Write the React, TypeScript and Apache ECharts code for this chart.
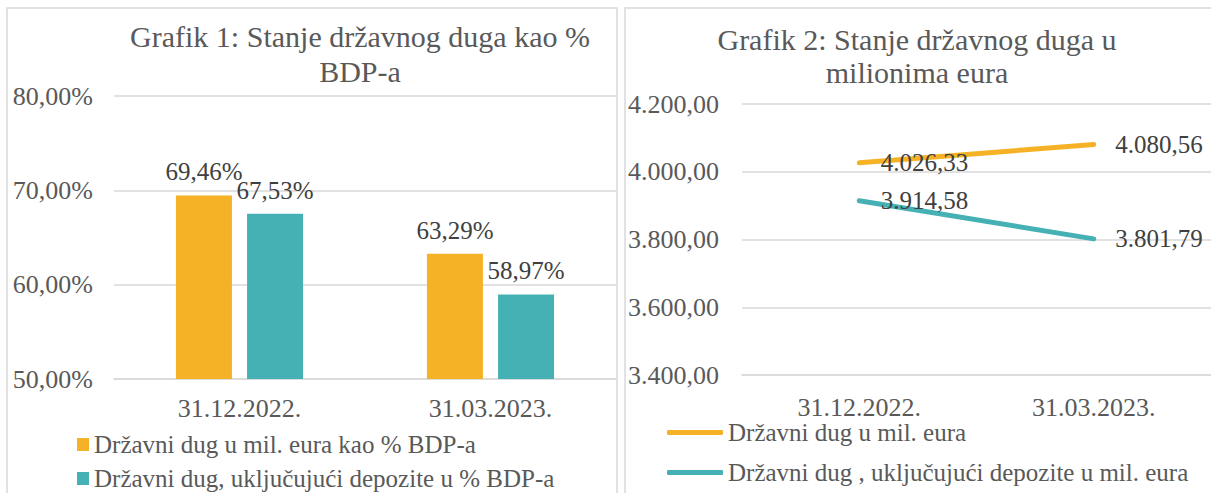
import React, { useEffect, useRef } from 'react';
import * as echarts from 'echarts';

const categories = ['31.12.2022.', '31.03.2023.'];
const title1 = 'Grafik 1: Stanje državnog duga kao %\nBDP-a';
const title2 = 'Grafik 2: Stanje državnog duga u\nmilionima eura';
const barNames = ['Državni dug u mil. eura kao % BDP-a', 'Državni dug, uključujući depozite u % BDP-a'];
const lineNames = ['Državni dug u mil. eura', 'Državni dug , uključujući depozite u mil. eura'];
const debtPctGdp = [69.46, 63.29];
const debtInclDepositsPctGdp = [67.53, 58.97];
const debtMilEur = [4026.33, 4080.56];
const debtInclDepositsMilEur = [3914.58, 3801.79];
const pctAxis = { min: 50, max: 80, interval: 10 };
const eurAxis = { min: 3400, max: 4200, interval: 200 };

const ORANGE = '#F6B226';
const TEAL = '#46B1B5';
const GRID = '#D9D9D9';
const AXIS_TEXT = '#595959';
const LABEL_TEXT = '#404040';
const FONT = 'Liberation Serif';
const TITLE_SIZE = 30;
const AXIS_SIZE = 26;
const LABEL_SIZE = 25;
const LEGEND_SIZE = 25;

const fmtPct = (v: number) => v.toFixed(2).replace('.', ',') + '%';
const fmtEur = (v: number) => {
  const [i, d] = v.toFixed(2).split('.');
  return i.replace(/\B(?=(\d{3})+(?!\d))/g, '.') + ',' + d;
};

export default function App() {
  const ref = useRef<HTMLDivElement>(null);
  useEffect(() => {
    if (!ref.current) return;
    const chart = echarts.init(ref.current, undefined, { renderer: 'svg' });
    const axisLabel = { color: AXIS_TEXT, fontFamily: FONT, fontSize: AXIS_SIZE };
    const dataLabel = { color: LABEL_TEXT, fontFamily: FONT, fontSize: LABEL_SIZE };
    chart.setOption({
      animation: false,
      backgroundColor: '#FFFFFF',
      textStyle: { fontFamily: FONT },
      graphic: [
        { type: 'rect', shape: { x: 7, y: 8, width: 610, height: 520 }, style: { fill: 'none', stroke: GRID, lineWidth: 1.5 }, silent: true },
        { type: 'rect', shape: { x: 625, y: 8, width: 620, height: 520 }, style: { fill: 'none', stroke: GRID, lineWidth: 1.5 }, silent: true },
      ],
      title: [
        {
          text: title1, left: 355, top: 14, textAlign: 'center',
          textStyle: { color: AXIS_TEXT, fontFamily: FONT, fontSize: TITLE_SIZE, fontWeight: 'normal', lineHeight: 35, align: 'center' },
        },
        {
          text: title2, left: 912, top: 18, textAlign: 'center',
          textStyle: { color: AXIS_TEXT, fontFamily: FONT, fontSize: TITLE_SIZE, fontWeight: 'normal', lineHeight: 33, align: 'center' },
        },
      ],
      legend: [
        {
          data: barNames, orient: 'vertical', left: 77, top: 432, padding: 0, itemGap: 9,
          icon: 'rect', itemWidth: 12, itemHeight: 13,
          textStyle: { color: AXIS_TEXT, fontFamily: FONT, fontSize: LEGEND_SIZE },
        },
        {
          data: lineNames, orient: 'vertical', left: 667, top: 420, padding: 0, itemGap: 15,
          icon: 'roundRect', itemWidth: 56, itemHeight: 5,
          textStyle: { color: AXIS_TEXT, fontFamily: FONT, fontSize: LEGEND_SIZE },
        },
      ],
      grid: [
        { left: 114, right: 1211 - 616, top: 96, bottom: 493 - 379 },
        { left: 742, right: -3, top: 104, bottom: 493 - 375 },
      ],
      xAxis: [
        {
          type: 'category', gridIndex: 0, data: categories,
          axisLine: { lineStyle: { color: GRID, width: 1.5 } }, axisTick: { show: false },
          axisLabel: { ...axisLabel, margin: 16 },
        },
        {
          type: 'category', gridIndex: 1, data: categories,
          axisLine: { lineStyle: { color: GRID, width: 1.5 } }, axisTick: { show: false },
          axisLabel: { ...axisLabel, margin: 19 },
        },
      ],
      yAxis: [
        {
          type: 'value', gridIndex: 0, ...pctAxis,
          axisLine: { show: false }, axisTick: { show: false },
          splitLine: { lineStyle: { color: GRID, width: 1.5 } },
          axisLabel: { ...axisLabel, margin: 21, formatter: (v: number) => fmtPct(v) },
        },
        {
          type: 'value', gridIndex: 1, ...eurAxis,
          axisLine: { show: false }, axisTick: { show: false },
          splitLine: { lineStyle: { color: GRID, width: 1.5 } },
          axisLabel: { ...axisLabel, margin: 23, formatter: (v: number) => fmtEur(v) },
        },
      ],
      series: [
        {
          name: barNames[0], type: 'bar', xAxisIndex: 0, yAxisIndex: 0, data: debtPctGdp,
          barWidth: 56, barGap: '27%', itemStyle: { color: ORANGE },
          label: { show: true, position: 'top', distance: 11, ...dataLabel, formatter: (p: any) => fmtPct(p.value) },
        },
        {
          name: barNames[1], type: 'bar', xAxisIndex: 0, yAxisIndex: 0, data: debtInclDepositsPctGdp,
          barWidth: 56, barGap: '27%', itemStyle: { color: TEAL },
          label: { show: true, position: 'top', distance: 11, ...dataLabel, formatter: (p: any) => fmtPct(p.value) },
        },
        {
          name: lineNames[0], type: 'line', xAxisIndex: 1, yAxisIndex: 1, data: debtMilEur,
          symbol: 'circle', symbolSize: 1, itemStyle: { color: ORANGE },
          lineStyle: { color: ORANGE, width: 5, cap: 'round' },
          label: { show: true, position: 'right', distance: 21, ...dataLabel, formatter: (p: any) => fmtEur(p.value) },
        },
        {
          name: lineNames[1], type: 'line', xAxisIndex: 1, yAxisIndex: 1, data: debtInclDepositsMilEur,
          symbol: 'circle', symbolSize: 1, itemStyle: { color: TEAL },
          lineStyle: { color: TEAL, width: 5, cap: 'round' },
          label: { show: true, position: 'right', distance: 21, ...dataLabel, formatter: (p: any) => fmtEur(p.value) },
        },
      ],
    });
    return () => chart.dispose();
  }, []);
  return <div ref={ref} style={{ position: 'absolute', left: 0, top: 0, width: 1211, height: 493 }} />;
}
